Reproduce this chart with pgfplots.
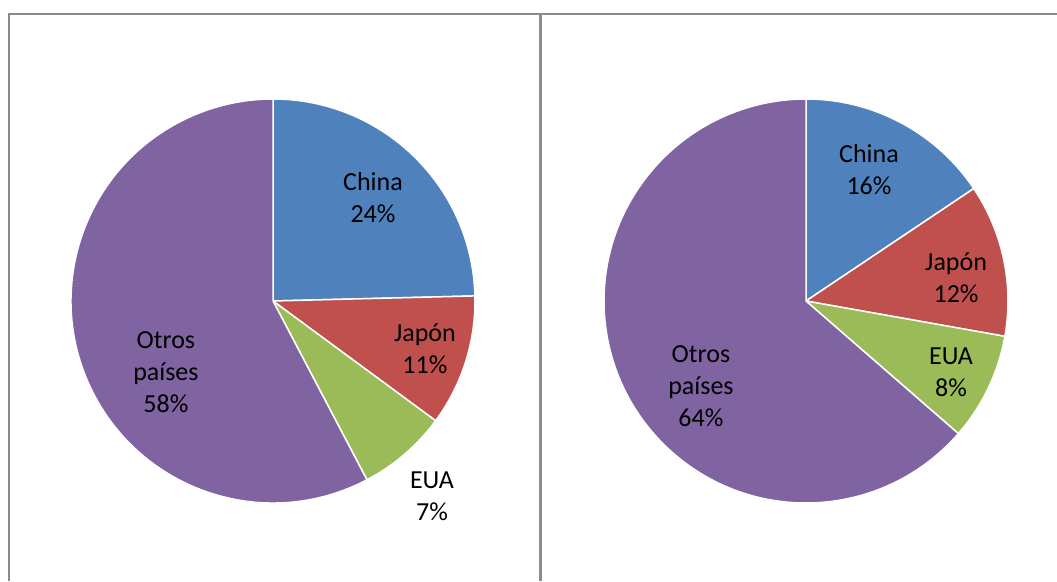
\documentclass[border=0pt]{standalone}
\usepackage{pgfplots}
\usepackage{pgfplotstable}
\pgfplotsset{compat=1.18}
\usepackage{fontspec}
\setmainfont{Carlito}

\definecolor{slice0}{HTML}{4F81BD}
\definecolor{slice1}{HTML}{C0504D}
\definecolor{slice2}{HTML}{9BBB59}
\definecolor{slice3}{HTML}{8064A2}
\definecolor{cellrule}{HTML}{8C8C8C}

% shares in percent, clockwise from 12 o'clock
\pgfplotstableread{
pais share
China 24.6
Japon 10.5
EUA 7.2
Otros 57.7
}\datosA
\pgfplotstableread{
pais share
China 15.6
Japon 12.2
EUA 8.6
Otros 63.6
}\datosB

% start/end angle of every slice, stored as \<prefix>s<i> and \<prefix>e<i>
\newcommand\pieangles[2]{%
  \xdef\acc{90}%
  \foreach \i in {0,...,3}{%
    \pgfplotstablegetelem{\i}{share}\of#1%
    \pgfmathsetmacro\nexta{\acc-3.6*\pgfplotsretval}%
    \expandafter\xdef\csname #2s\i\endcsname{\acc}%
    \expandafter\xdef\csname #2e\i\endcsname{\nexta}%
    \xdef\acc{\nexta}%
  }%
}

\pgfplotsset{
  pie/.style={
    hide axis, scale only axis, clip=false,
    width=404pt, height=404pt,
    xmin=-1, xmax=1, ymin=-1, ymax=1,
    anchor=origin,
  },
}
\tikzset{lbl/.style={align=center, font=\fontsize{26}{32}\selectfont, text=black}}

\begin{document}
\begin{tikzpicture}
  \path[use as bounding box] (0pt,0pt) rectangle (1057pt,581pt);
  % table cell rules
  \draw[cellrule, line width=2pt] (9pt,0pt) -- (9pt,567pt) -- (1057pt,567pt);
  \draw[cellrule, line width=3pt] (540.3pt,0pt) -- (540.3pt,567pt);

  \pieangles{\datosA}{A}
  \pieangles{\datosB}{B}

  \begin{axis}[pie, at={(273pt,280pt)}]
    \pgfplotsinvokeforeach{0,...,3}{
      \fill[slice#1, draw=white, line width=1.5pt, line join=round]
        (axis cs:0,0) -- (axis cs:{cos(\csname As#1\endcsname)},{sin(\csname As#1\endcsname)})
        arc[start angle=\csname As#1\endcsname, end angle=\csname Ae#1\endcsname, radius=202pt]
        -- cycle;
    }
    \node[lbl] at (axis cs:0.495,0.51) {China\\24\%};
    \node[lbl] at (axis cs:0.752,-0.238) {Japón\\11\%};
    \node[lbl] at (axis cs:0.787,-0.965) {EUA\\7\%};
    \node[lbl] at (axis cs:-0.53,-0.351) {Otros\\países\\58\%};
  \end{axis}

  \begin{axis}[pie, at={(806pt,280pt)}]
    \pgfplotsinvokeforeach{0,...,3}{
      \fill[slice#1, draw=white, line width=1.5pt, line join=round]
        (axis cs:0,0) -- (axis cs:{cos(\csname Bs#1\endcsname)},{sin(\csname Bs#1\endcsname)})
        arc[start angle=\csname Bs#1\endcsname, end angle=\csname Be#1\endcsname, radius=202pt]
        -- cycle;
    }
    \node[lbl] at (axis cs:0.312,0.653) {China\\16\%};
    \node[lbl] at (axis cs:0.743,0.114) {Japón\\12\%};
    \node[lbl] at (axis cs:0.718,-0.351) {EUA\\8\%};
    \node[lbl] at (axis cs:-0.52,-0.421) {Otros\\países\\64\%};
  \end{axis}
\end{tikzpicture}
\end{document}
